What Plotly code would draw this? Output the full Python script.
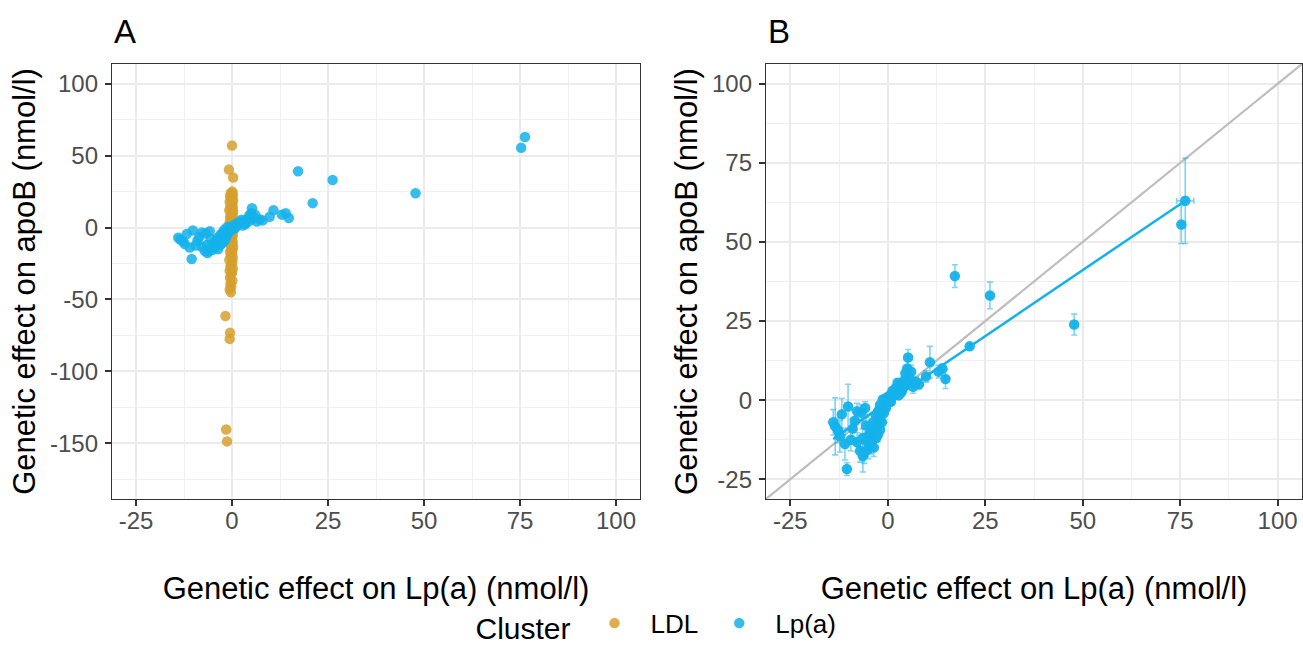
import plotly.graph_objects as go

# ---------------- data ----------------
LDL_X = [0.1, -0.3, 0.2, -0.5, 0.0, -0.2, 0.3, -0.6, 0.1, -0.4, 0.2, -0.1, -0.7, 0.3, 0.0, -0.3,
         0.2, -0.5, 0.1, -0.2, 0.4, -0.6, 0.0, -0.3, 0.2, -0.1, -0.4, 0.3, -0.2, 0.1, -0.5, 0.2,
         -0.3, 0.0, -0.6, 0.2, -0.1, -0.4, 0.3, -0.2, 0.1, -0.5, 0.0, -0.3, 0.2, -0.7, 0.1, -0.2,
         -0.4, 0.2, -0.6, 0.0, -0.3, -0.5, 0.1, -0.4, -0.2, -0.6, -0.3,
         0.0, -0.8, 0.3, -1.7, -0.5, -0.6, -1.5, -1.3]
LDL_Y = [25, 24, 23, 22, 21, 20, 19, 18, 16.5, 15, 14, 13, 12, 11, 10, 9,
         8, 7, 6, 5, 4.2, 3.5, 2.5, 2, 1, 0.5, -0.5, -1.5, -2.5, -3.5, -4.5, -5.5,
         -6.5, -8, -9, -10, -11, -12, -13.5, -15, -16, -17, -18.5, -20, -21, -22.5, -24, -25.5,
         -27, -28.5, -30, -31.5, -33, -35, -37, -39, -41, -43, -45,
         57, 40.3, 34.8, -61.5, -73.2, -77.4, -140.4, -148.7]

LPA_X = [76.3, 75.3, 47.8, 26.2, 17.2, 21.0, 14.8, 14.0, 10.8, 9.8, 8.0, 6.5, 5.2, 5.0, 4.5, 5.5,
         4.0, 3.0, 2.0, 3.5, 1.5, 6.0, 7.2, 2.5, 1.0, 0.5, 0.2, -0.3, -0.6, -1.0, -1.3, -1.5,
         -1.8, -2.0, -2.2, -2.5, -2.7, -3.0, -3.2, -3.5, -3.0, -3.8, -4.0, -4.3, -4.5, -4.8,
         -5.0, -5.3, -5.6, -6.0, -6.4, -7.1, -6.5, -7.9, -7.9, -10.2, -11.8, -13.5, -12.3,
         -11.0, -10.5, -9.0, -8.5, -6.8, -5.8, -14.0, -12.8, -9.5, -2.0, -1.5, -2.6, -3.6,
         1.2, 0.8, -0.5, -1.0, 3.8, 2.8, 4.8, 13.0]
LPA_Y = [63.0, 55.5, 23.9, 33.1, 39.2, 17.0, 6.7, 10.0, 12.0, 7.5, 5.0, 4.2, 13.5, 10.0, 8.5, 7.0,
         6.0, 4.5, 3.8, 2.5, 2.0, 9.0, 5.8, 5.5, 1.0, 1.5, -0.5, 0.8, -1.2, -2.0, 0.2, -3.0,
         -4.5, -1.5, -6.0, -3.5, -7.5, -5.0, -9.0, -10.5, -12.0, -7.0, -12.5, -9.5, -14.0, -11.0,
         -15.5, -13.0, -8.0, -16.5, -17.7, -16.1, -12.0, -13.3, -3.5, -2.0, -4.5, -8.3, -11.4,
         -13.9, -21.8, -9.0, -6.5, -4.0, -2.5, -7.0, -9.5, -12.5, -9.5, -7.0, -11.0, -15.0,
         3.0, -0.5, -2.5, -4.0, 3.5, 1.5, 5.0, 9.0]
LPA_YERR = [13.5, 6.0, 3.3, 4.2, 3.6, 1.0, 3.0, 1.5, 5.0, 1.8, 1.5, 2.0, 2.5, 3.0, 2.0, 2.0,
            1.5, 1.2, 1.0, 1.2, 1.0, 2.0, 1.5, 1.2, 1.0, 1.0, 1.0, 1.0, 1.2, 1.2, 1.0, 1.5,
            1.5, 1.2, 1.8, 1.5, 2.0, 1.8, 2.0, 2.2, 2.5, 2.0, 2.5, 2.5, 3.0, 2.5,
            3.0, 3.0, 2.5, 3.5, 5.0, 3.5, 3.0, 3.0, 2.5, 7.0, 5.0, 9.0, 5.0,
            5.0, 2.0, 3.0, 3.0, 2.5, 2.0, 4.0, 4.0, 3.5, 2.0, 1.8, 2.2, 2.8,
            1.0, 1.0, 1.2, 1.5, 1.2, 1.0, 1.5, 2.0]
LPA_XERR = [2.2] + [0.0] * (len(LPA_X) - 1)

# regression line (Lp(a) cluster)
FIT_SLOPE = 0.834
FIT_INTERCEPT = -0.6

X_TICKS = [-25, 0, 25, 50, 75, 100]
YA_TICKS = [-150, -100, -50, 0, 50, 100]
YB_TICKS = [-25, 0, 25, 50, 75, 100]

LDL_COLOR = "#D6A02E"
LPA_COLOR = "#14B1EA"
FONT = "Liberation Sans, Arial, sans-serif"

W, H = 1303, 650

fig = go.Figure()

# Panel A
fig.add_trace(go.Scatter(x=LDL_X, y=LDL_Y, mode="markers", name="LDL", legendgroup="LDL",
                         marker=dict(color=LDL_COLOR, size=10.5, opacity=0.85, line=dict(width=0)),
                         xaxis="x", yaxis="y"))
fig.add_trace(go.Scatter(x=LPA_X, y=LPA_Y, mode="markers", name="Lp(a)", legendgroup="Lpa",
                         marker=dict(color=LPA_COLOR, size=10.5, opacity=0.85, line=dict(width=0)),
                         xaxis="x", yaxis="y"))

# Panel B
ident = [-31.25, 106.25]
fig.add_trace(go.Scatter(x=ident, y=ident, mode="lines", line=dict(color="#BEBEBE", width=2.2),
                         showlegend=False, hoverinfo="skip", xaxis="x2", yaxis="y2"))
fig.add_trace(go.Scatter(x=LPA_X, y=LPA_Y, mode="markers", name="Lp(a)", legendgroup="Lpa",
                         showlegend=False,
                         error_y=dict(type="data", array=LPA_YERR, color="rgba(20,177,234,0.55)",
                                      thickness=1.6, width=3),
                         error_x=dict(type="data", array=LPA_XERR, color="rgba(20,177,234,0.55)",
                                      thickness=1.6, width=3),
                         marker=dict(color=LPA_COLOR, size=10.5, opacity=0.95, line=dict(width=0)),
                         xaxis="x2", yaxis="y2"))
xmin, xmax = min(LPA_X), max(LPA_X)
fig.add_trace(go.Scatter(x=[xmin, xmax], y=[FIT_INTERCEPT + FIT_SLOPE * xmin, FIT_INTERCEPT + FIT_SLOPE * xmax],
                         mode="lines", line=dict(color=LPA_COLOR, width=2.5),
                         showlegend=False, hoverinfo="skip", xaxis="x2", yaxis="y2"))

axis_common = dict(
    showline=True, mirror=True, linecolor="#333333", linewidth=1.3,
    ticks="outside", ticklen=6, tickwidth=1.5, tickcolor="#333333",
    tickfont=dict(family=FONT, size=24, color="#4D4D4D"),
    showgrid=True, gridcolor="#EBEBEB", gridwidth=2,
    zeroline=False, automargin=False,
    title_font=dict(family=FONT, size=31, color="#000000"),
)


def tick_text(vals):
    return [str(v) for v in vals]


y_dom = [1 - 499 / H, 1 - 64 / H]

xa = dict(axis_common, range=[-31.25, 106.25], tickvals=X_TICKS, ticktext=tick_text(X_TICKS),
          ticklabelstandoff=-6,
          minor=dict(tickvals=[-12.5, 12.5, 37.5, 62.5, 87.5], showgrid=True, gridcolor="#F0F0F0", gridwidth=1.3, ticks=""),
          title=dict(text="Genetic effect on Lp(a) (nmol/l)", standoff=44))

fig.update_layout(
    width=W, height=H,
    margin=dict(l=0, r=0, t=0, b=0),
    paper_bgcolor="white", plot_bgcolor="white",
    font=dict(family=FONT),
    xaxis=dict(xa, domain=[112 / W, 640 / W], anchor="y"),
    yaxis=dict(axis_common, domain=y_dom, anchor="x", range=[-188.75, 113.75],
               tickvals=YA_TICKS, ticktext=tick_text(YA_TICKS), ticklabelstandoff=2,
               minor=dict(tickvals=[-175, -125, -75, -25, 25, 75], showgrid=True, gridcolor="#F0F0F0", gridwidth=1.3, ticks=""),
               title=dict(text="Genetic effect on apoB (nmol/l)", standoff=5)),
    xaxis2=dict(xa, domain=[766 / W, 1302 / W], anchor="y2"),
    yaxis2=dict(axis_common, domain=y_dom, anchor="x2", range=[-31.25, 106.25],
                tickvals=YB_TICKS, ticktext=tick_text(YB_TICKS), ticklabelstandoff=2,
                minor=dict(tickvals=[-12.5, 12.5, 37.5, 62.5, 87.5], showgrid=True, gridcolor="#F0F0F0", gridwidth=1.3, ticks=""),
                title=dict(text="Genetic effect on apoB (nmol/l)", standoff=5)),
    legend=dict(orientation="h", x=0.5046, xanchor="center", y=0.002, yanchor="bottom",
                title=dict(text="Cluster", font=dict(family=FONT, size=30, color="#000000")),
                font=dict(family=FONT, size=26, color="#000000"),
                itemwidth=62, bgcolor="rgba(0,0,0,0)"),
    annotations=[
        dict(text="A", x=112 / W, y=1 - 31 / H, xref="paper", yref="paper", xanchor="left", yanchor="middle",
             showarrow=False, font=dict(family=FONT, size=33, color="#000000")),
        dict(text="B", x=766 / W, y=1 - 31 / H, xref="paper", yref="paper", xanchor="left", yanchor="middle",
             showarrow=False, font=dict(family=FONT, size=33, color="#000000")),
    ],
)

fig.write_html("out.html", config={"displayModeBar": False},
               post_script="document.body.style.margin='0';document.body.style.overflow='hidden';")
